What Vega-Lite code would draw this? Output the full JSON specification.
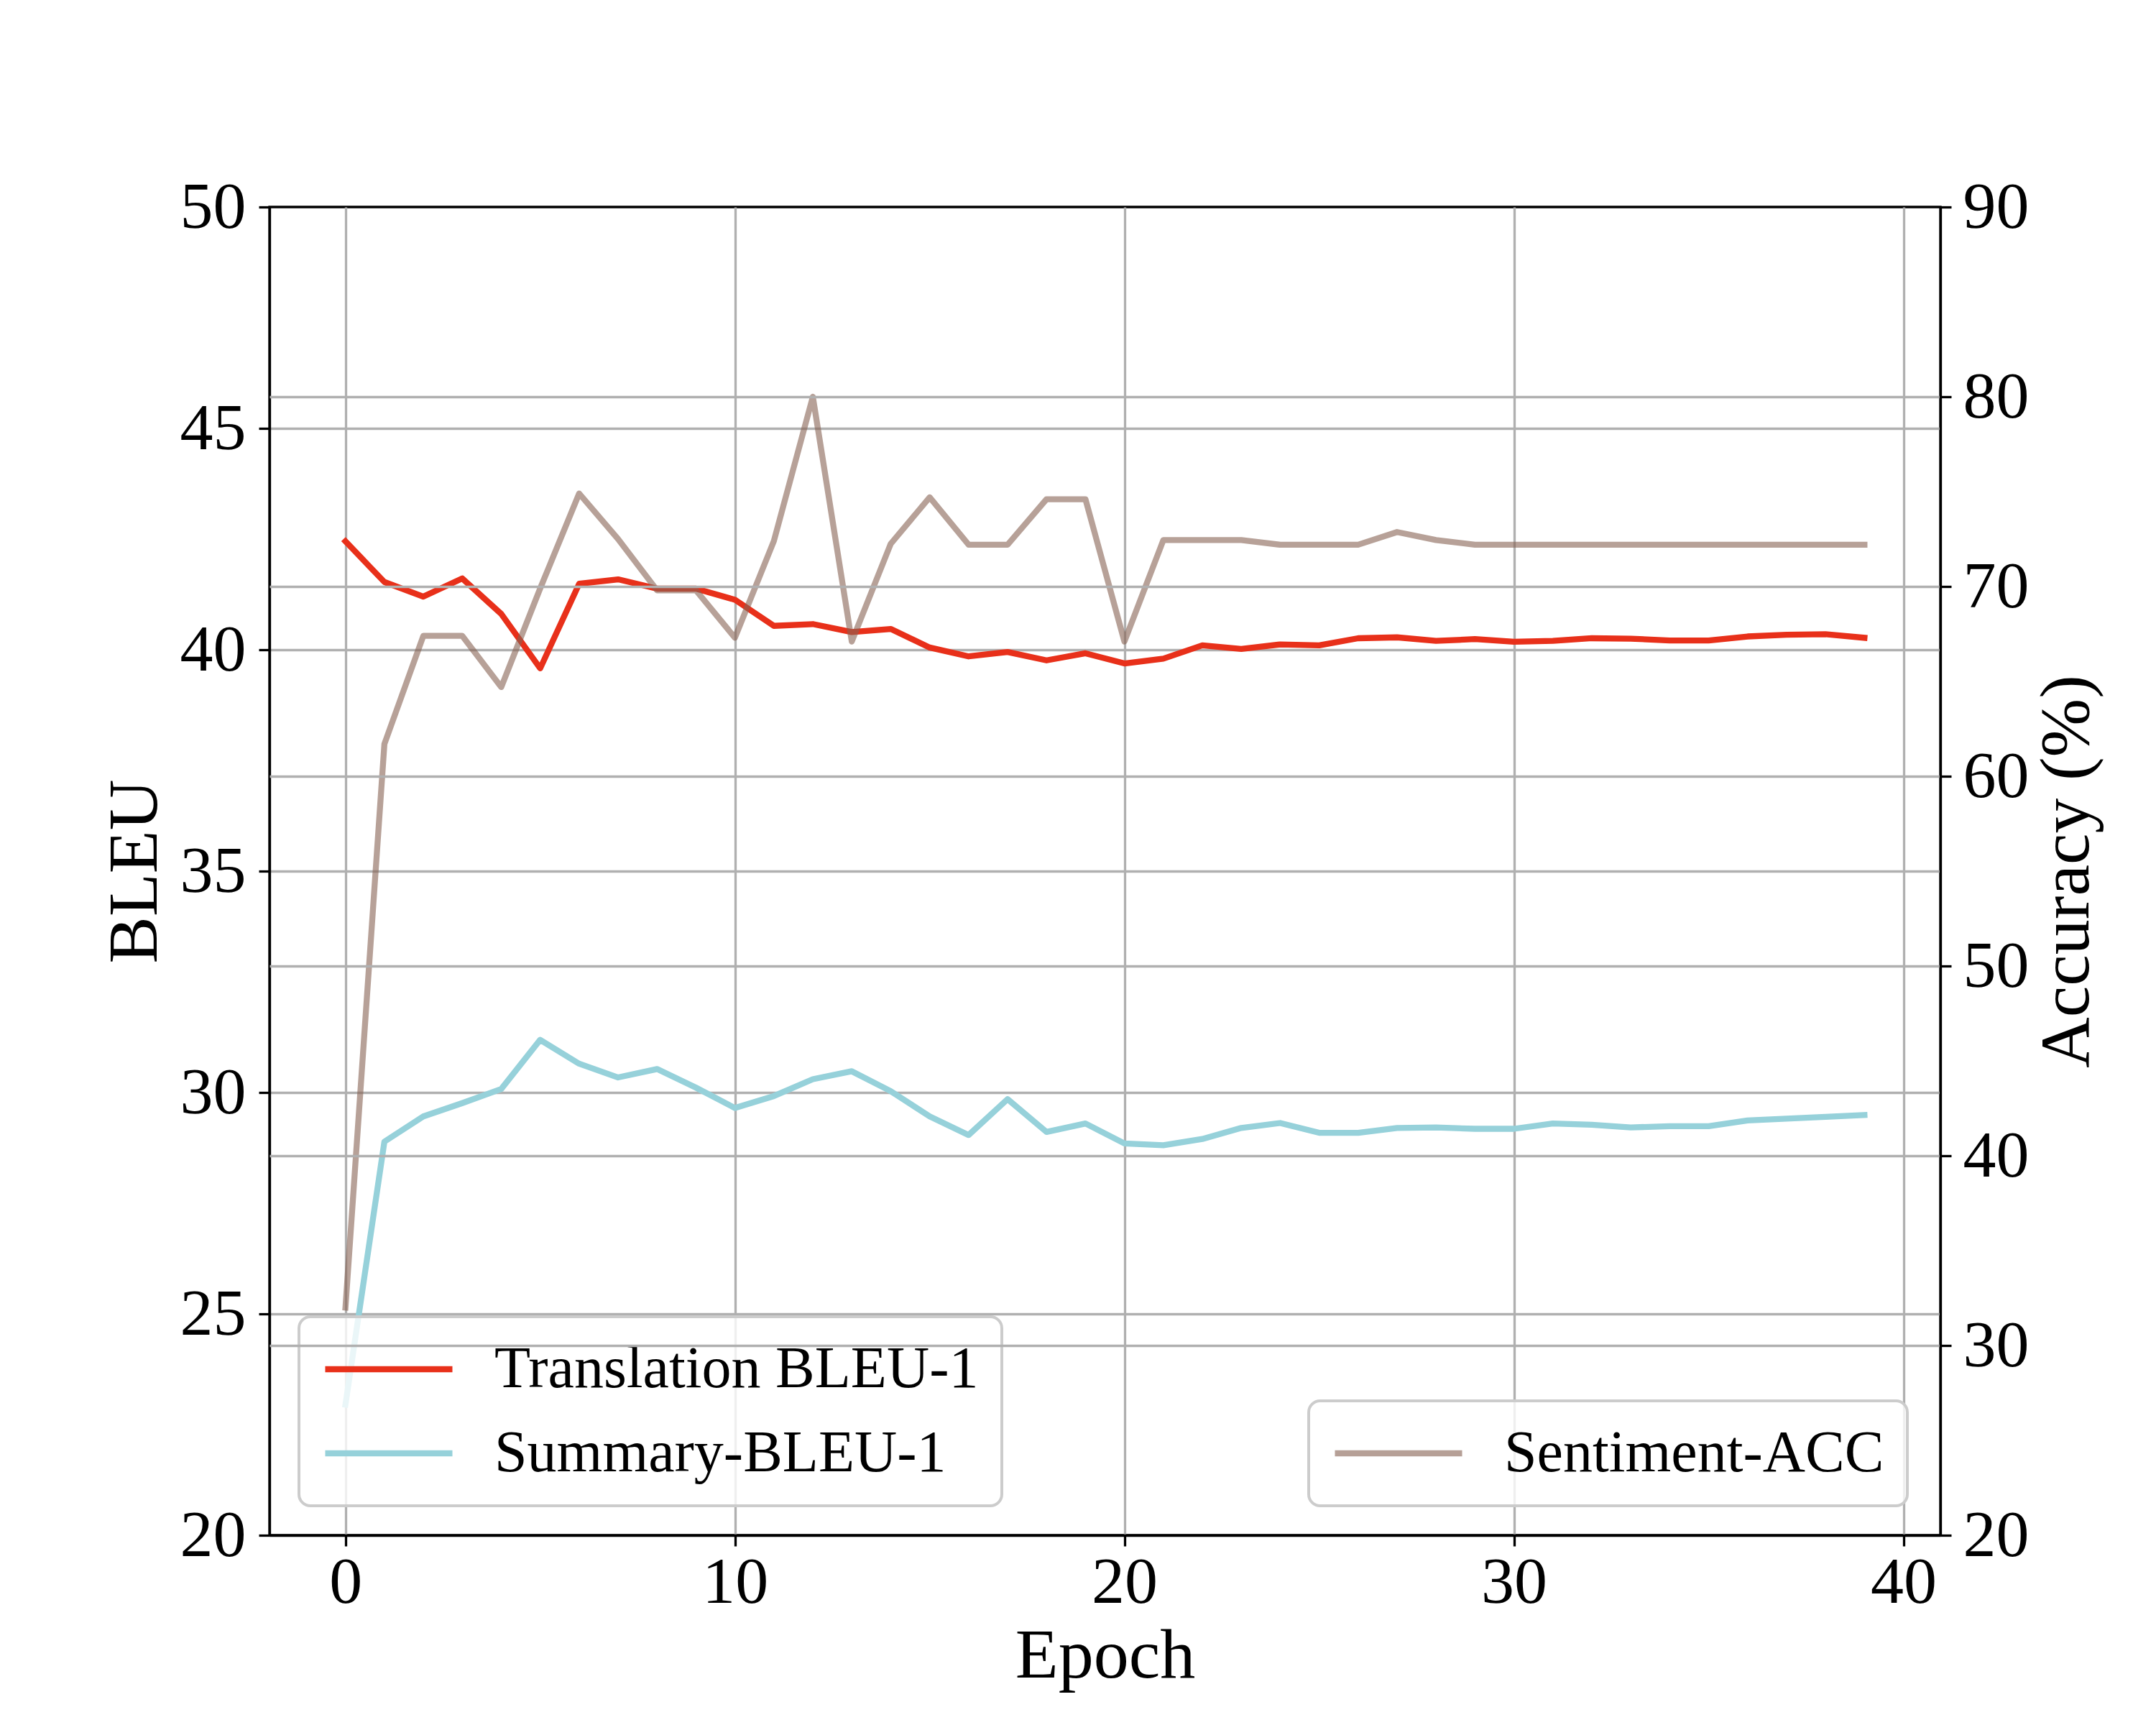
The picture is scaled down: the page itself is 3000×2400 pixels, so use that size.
{
  "$schema": "https://vega.github.io/schema/vega-lite/v6.json",
  "width": 2325,
  "height": 1848,
  "autosize": {"type": "none"},
  "padding": {"left": 375, "top": 288, "right": 300, "bottom": 264},
  "background": "white",
  "config": {
    "view": {"stroke": "black", "strokeWidth": 3.3},
    "font": "Liberation Serif",
    "axis": {
      "labelFont": "Liberation Serif",
      "labelFontSize": 92,
      "labelColor": "black",
      "labelFlush": false,
      "labelOverlap": false,
      "tickColor": "black",
      "tickSize": 15,
      "tickWidth": 3.3,
      "domainColor": "black",
      "domainWidth": 3.3,
      "gridColor": "#b0b0b0",
      "gridWidth": 3.3,
      "titleFont": "Liberation Serif",
      "titleFontSize": 98,
      "titleFontWeight": "normal",
      "titleColor": "black"
    },
    "legend": {
      "labelFont": "Liberation Serif",
      "labelFontSize": 82,
      "labelColor": "black",
      "labelLimit": 3000,
      "fillColor": "rgba(255,255,255,0.8)",
      "strokeColor": "#cccccc",
      "strokeWidth": 4,
      "cornerRadius": 16,
      "padding": 32,
      "symbolType": "stroke",
      "symbolSize": 31329,
      "symbolStrokeWidth": 8.3,
      "clipHeight": 82,
      "rowPadding": 35,
      "labelOffset": 54
    }
  },
  "data": {
    "values": [
      {"epoch": 0, "series": "Translation BLEU-1", "value": 42.45},
      {"epoch": 1, "series": "Translation BLEU-1", "value": 41.53},
      {"epoch": 2, "series": "Translation BLEU-1", "value": 41.20},
      {"epoch": 3, "series": "Translation BLEU-1", "value": 41.61},
      {"epoch": 4, "series": "Translation BLEU-1", "value": 40.81},
      {"epoch": 5, "series": "Translation BLEU-1", "value": 39.58},
      {"epoch": 6, "series": "Translation BLEU-1", "value": 41.49},
      {"epoch": 7, "series": "Translation BLEU-1", "value": 41.59},
      {"epoch": 8, "series": "Translation BLEU-1", "value": 41.38},
      {"epoch": 9, "series": "Translation BLEU-1", "value": 41.38},
      {"epoch": 10, "series": "Translation BLEU-1", "value": 41.13},
      {"epoch": 11, "series": "Translation BLEU-1", "value": 40.54},
      {"epoch": 12, "series": "Translation BLEU-1", "value": 40.58},
      {"epoch": 13, "series": "Translation BLEU-1", "value": 40.40},
      {"epoch": 14, "series": "Translation BLEU-1", "value": 40.47},
      {"epoch": 15, "series": "Translation BLEU-1", "value": 40.05},
      {"epoch": 16, "series": "Translation BLEU-1", "value": 39.85},
      {"epoch": 17, "series": "Translation BLEU-1", "value": 39.95},
      {"epoch": 18, "series": "Translation BLEU-1", "value": 39.76},
      {"epoch": 19, "series": "Translation BLEU-1", "value": 39.92},
      {"epoch": 20, "series": "Translation BLEU-1", "value": 39.69},
      {"epoch": 21, "series": "Translation BLEU-1", "value": 39.80},
      {"epoch": 22, "series": "Translation BLEU-1", "value": 40.10},
      {"epoch": 23, "series": "Translation BLEU-1", "value": 40.02},
      {"epoch": 24, "series": "Translation BLEU-1", "value": 40.12},
      {"epoch": 25, "series": "Translation BLEU-1", "value": 40.10},
      {"epoch": 26, "series": "Translation BLEU-1", "value": 40.26},
      {"epoch": 27, "series": "Translation BLEU-1", "value": 40.28},
      {"epoch": 28, "series": "Translation BLEU-1", "value": 40.20},
      {"epoch": 29, "series": "Translation BLEU-1", "value": 40.24},
      {"epoch": 30, "series": "Translation BLEU-1", "value": 40.18},
      {"epoch": 31, "series": "Translation BLEU-1", "value": 40.20},
      {"epoch": 32, "series": "Translation BLEU-1", "value": 40.26},
      {"epoch": 33, "series": "Translation BLEU-1", "value": 40.25},
      {"epoch": 34, "series": "Translation BLEU-1", "value": 40.21},
      {"epoch": 35, "series": "Translation BLEU-1", "value": 40.21},
      {"epoch": 36, "series": "Translation BLEU-1", "value": 40.30},
      {"epoch": 37, "series": "Translation BLEU-1", "value": 40.34},
      {"epoch": 38, "series": "Translation BLEU-1", "value": 40.35},
      {"epoch": 39, "series": "Translation BLEU-1", "value": 40.27},
      {"epoch": 0, "series": "Summary-BLEU-1", "value": 22.95},
      {"epoch": 1, "series": "Summary-BLEU-1", "value": 28.89},
      {"epoch": 2, "series": "Summary-BLEU-1", "value": 29.46},
      {"epoch": 3, "series": "Summary-BLEU-1", "value": 29.76},
      {"epoch": 4, "series": "Summary-BLEU-1", "value": 30.08},
      {"epoch": 5, "series": "Summary-BLEU-1", "value": 31.19},
      {"epoch": 6, "series": "Summary-BLEU-1", "value": 30.65},
      {"epoch": 7, "series": "Summary-BLEU-1", "value": 30.34},
      {"epoch": 8, "series": "Summary-BLEU-1", "value": 30.53},
      {"epoch": 9, "series": "Summary-BLEU-1", "value": 30.11},
      {"epoch": 10, "series": "Summary-BLEU-1", "value": 29.65},
      {"epoch": 11, "series": "Summary-BLEU-1", "value": 29.92},
      {"epoch": 12, "series": "Summary-BLEU-1", "value": 30.30},
      {"epoch": 13, "series": "Summary-BLEU-1", "value": 30.48},
      {"epoch": 14, "series": "Summary-BLEU-1", "value": 30.03},
      {"epoch": 15, "series": "Summary-BLEU-1", "value": 29.46},
      {"epoch": 16, "series": "Summary-BLEU-1", "value": 29.04},
      {"epoch": 17, "series": "Summary-BLEU-1", "value": 29.85},
      {"epoch": 18, "series": "Summary-BLEU-1", "value": 29.11},
      {"epoch": 19, "series": "Summary-BLEU-1", "value": 29.30},
      {"epoch": 20, "series": "Summary-BLEU-1", "value": 28.85},
      {"epoch": 21, "series": "Summary-BLEU-1", "value": 28.81},
      {"epoch": 22, "series": "Summary-BLEU-1", "value": 28.95},
      {"epoch": 23, "series": "Summary-BLEU-1", "value": 29.20},
      {"epoch": 24, "series": "Summary-BLEU-1", "value": 29.31},
      {"epoch": 25, "series": "Summary-BLEU-1", "value": 29.09},
      {"epoch": 26, "series": "Summary-BLEU-1", "value": 29.09},
      {"epoch": 27, "series": "Summary-BLEU-1", "value": 29.20},
      {"epoch": 28, "series": "Summary-BLEU-1", "value": 29.21},
      {"epoch": 29, "series": "Summary-BLEU-1", "value": 29.18},
      {"epoch": 30, "series": "Summary-BLEU-1", "value": 29.18},
      {"epoch": 31, "series": "Summary-BLEU-1", "value": 29.30},
      {"epoch": 32, "series": "Summary-BLEU-1", "value": 29.27},
      {"epoch": 33, "series": "Summary-BLEU-1", "value": 29.21},
      {"epoch": 34, "series": "Summary-BLEU-1", "value": 29.24},
      {"epoch": 35, "series": "Summary-BLEU-1", "value": 29.24},
      {"epoch": 36, "series": "Summary-BLEU-1", "value": 29.37},
      {"epoch": 37, "series": "Summary-BLEU-1", "value": 29.41},
      {"epoch": 38, "series": "Summary-BLEU-1", "value": 29.45},
      {"epoch": 39, "series": "Summary-BLEU-1", "value": 29.49},
      {"epoch": 0, "series": "Sentiment-ACC", "value": 32.0},
      {"epoch": 1, "series": "Sentiment-ACC", "value": 61.7},
      {"epoch": 2, "series": "Sentiment-ACC", "value": 67.4},
      {"epoch": 3, "series": "Sentiment-ACC", "value": 67.4},
      {"epoch": 4, "series": "Sentiment-ACC", "value": 64.7},
      {"epoch": 5, "series": "Sentiment-ACC", "value": 69.9},
      {"epoch": 6, "series": "Sentiment-ACC", "value": 74.9},
      {"epoch": 7, "series": "Sentiment-ACC", "value": 72.5},
      {"epoch": 8, "series": "Sentiment-ACC", "value": 69.8},
      {"epoch": 9, "series": "Sentiment-ACC", "value": 69.8},
      {"epoch": 10, "series": "Sentiment-ACC", "value": 67.3},
      {"epoch": 11, "series": "Sentiment-ACC", "value": 72.4},
      {"epoch": 12, "series": "Sentiment-ACC", "value": 80.0},
      {"epoch": 13, "series": "Sentiment-ACC", "value": 67.1},
      {"epoch": 14, "series": "Sentiment-ACC", "value": 72.25},
      {"epoch": 15, "series": "Sentiment-ACC", "value": 74.7},
      {"epoch": 16, "series": "Sentiment-ACC", "value": 72.2},
      {"epoch": 17, "series": "Sentiment-ACC", "value": 72.2},
      {"epoch": 18, "series": "Sentiment-ACC", "value": 74.6},
      {"epoch": 19, "series": "Sentiment-ACC", "value": 74.6},
      {"epoch": 20, "series": "Sentiment-ACC", "value": 67.1},
      {"epoch": 21, "series": "Sentiment-ACC", "value": 72.45},
      {"epoch": 22, "series": "Sentiment-ACC", "value": 72.45},
      {"epoch": 23, "series": "Sentiment-ACC", "value": 72.45},
      {"epoch": 24, "series": "Sentiment-ACC", "value": 72.2},
      {"epoch": 25, "series": "Sentiment-ACC", "value": 72.2},
      {"epoch": 26, "series": "Sentiment-ACC", "value": 72.2},
      {"epoch": 27, "series": "Sentiment-ACC", "value": 72.87},
      {"epoch": 28, "series": "Sentiment-ACC", "value": 72.45},
      {"epoch": 29, "series": "Sentiment-ACC", "value": 72.2},
      {"epoch": 30, "series": "Sentiment-ACC", "value": 72.2},
      {"epoch": 31, "series": "Sentiment-ACC", "value": 72.2},
      {"epoch": 32, "series": "Sentiment-ACC", "value": 72.2},
      {"epoch": 33, "series": "Sentiment-ACC", "value": 72.2},
      {"epoch": 34, "series": "Sentiment-ACC", "value": 72.2},
      {"epoch": 35, "series": "Sentiment-ACC", "value": 72.2},
      {"epoch": 36, "series": "Sentiment-ACC", "value": 72.2},
      {"epoch": 37, "series": "Sentiment-ACC", "value": 72.2},
      {"epoch": 38, "series": "Sentiment-ACC", "value": 72.2},
      {"epoch": 39, "series": "Sentiment-ACC", "value": 72.2}
    ]
  },
  "encoding": {
    "x": {
      "field": "epoch",
      "type": "quantitative",
      "scale": {"domain": [-1.95, 40.95], "nice": false, "zero": false},
      "axis": {
        "values": [0, 10, 20, 30, 40],
        "title": "Epoch",
        "titleY": 197,
        "titleBaseline": "alphabetic",
        "labelPadding": 5,
        "grid": true
      }
    }
  },
  "layer": [
    {
      "transform": [{"filter": "datum.series !== 'Sentiment-ACC'"}],
      "mark": {"type": "line", "strokeWidth": 8.3, "strokeJoin": "round", "strokeCap": "square"},
      "encoding": {
        "y": {
          "field": "value",
          "type": "quantitative",
          "scale": {"domain": [20, 50], "nice": false, "zero": false},
          "axis": {
            "orient": "left",
            "values": [20, 25, 30, 35, 40, 45, 50],
            "title": "BLEU",
            "titleAngle": 270,
            "titleX": -158,
            "titleY": 924,
            "titleAlign": "center",
            "titleBaseline": "alphabetic",
            "labelPadding": 18,
            "grid": true,
            "gridOpacity": {"condition": {"test": "datum.value <= 20 || datum.value >= 50", "value": 0}, "value": 1}
          }
        },
        "color": {
          "field": "series",
          "type": "nominal",
          "scale": {"domain": ["Translation BLEU-1", "Summary-BLEU-1"], "range": ["#e8301a", "#96d1da"]},
          "legend": {"orient": "none", "legendX": 41, "legendY": 1544, "title": null}
        }
      }
    },
    {
      "transform": [{"filter": "datum.series === 'Sentiment-ACC'"}],
      "mark": {"type": "line", "strokeWidth": 8.3, "strokeJoin": "round", "strokeCap": "square", "opacity": 0.6},
      "encoding": {
        "y": {
          "field": "value",
          "type": "quantitative",
          "scale": {"domain": [20, 90], "nice": false, "zero": false},
          "axis": {
            "orient": "right",
            "values": [20, 30, 40, 50, 60, 70, 80, 90],
            "title": "Accuracy (%)",
            "titleAngle": 270,
            "titleX": 205,
            "titleY": 924,
            "titleAlign": "center",
            "titleBaseline": "alphabetic",
            "labelPadding": 16,
            "grid": true,
            "gridOpacity": {"condition": {"test": "datum.value <= 20 || datum.value >= 90", "value": 0}, "value": 1},
            "zindex": 1
          }
        },
        "color": {
          "field": "series",
          "type": "nominal",
          "scale": {"domain": ["Sentiment-ACC"], "range": ["#876253"]},
          "legend": {"orient": "none", "legendX": 1446, "legendY": 1661, "title": null, "symbolOpacity": 0.6}
        }
      }
    }
  ],
  "resolve": {"scale": {"y": "independent", "color": "independent"}}
}
